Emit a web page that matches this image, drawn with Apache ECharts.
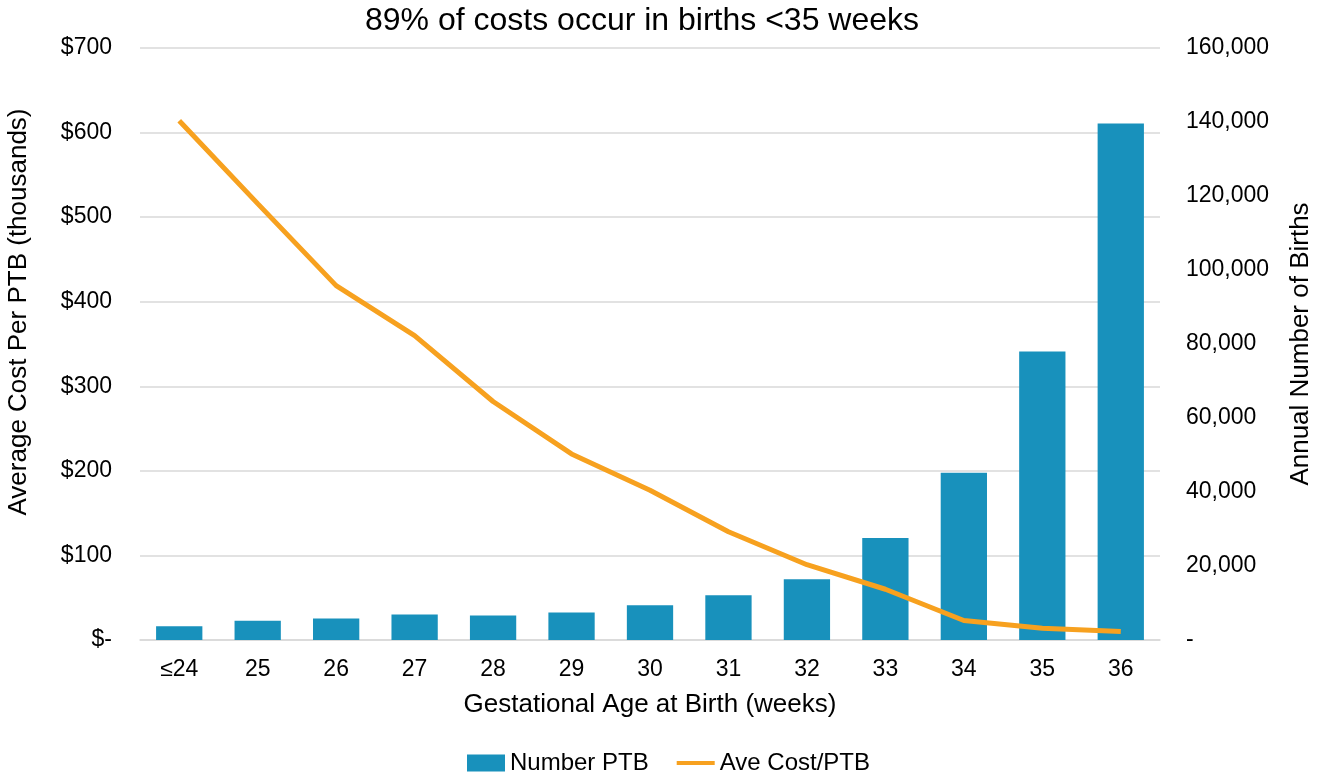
<!DOCTYPE html>
<html>
<head>
<meta charset="utf-8">
<script src="https://cdn.jsdelivr.net/npm/echarts@6/dist/echarts.min.js"></script>
<style>
html,body{margin:0;padding:0;background:#fff;}
#chart{width:1318px;height:776px;}
</style>
</head>
<body>
<div id="chart"></div>
<script>
const categories = ['≤24','25','26','27','28','29','30','31','32','33','34','35','36'];
const numberPTB = [3700, 5200, 5800, 6900, 6600, 7400, 9400, 12100, 16400, 27600, 45200, 78000, 139600];
const aveCost = [614, 516, 419, 360, 282, 220, 177, 128, 89, 60, 23, 14, 10];
const leftTicks = {min: 0, max: 700, interval: 100};
const rightTicks = {min: 0, max: 160000, interval: 20000};

const FONT = '"Liberation Sans", Arial, Helvetica, sans-serif';
const chart = echarts.init(document.getElementById('chart'));
chart.setOption({
  animation: false,
  textStyle: {fontFamily: FONT},
  title: {
    text: '89% of costs occur in births <35 weeks',
    left: 360, top: 0,
    textStyle: {fontSize: 32, fontWeight: 'normal', color: '#000', fontFamily: FONT}
  },
  legend: {
    bottom: -4, left: 462,
    itemGap: 28,
    textStyle: {fontSize: 24, color: '#000', fontFamily: FONT},
    data: [
      {name: 'Number PTB', icon: 'rect'},
      {name: 'Ave Cost/PTB', icon: 'path://M0,0 L40,0 L40,4 L0,4 Z'}
    ],
    itemWidth: 38, itemHeight: 17
  },
  grid: {left: 140, right: 158, top: 48, bottom: 136, containLabel: false, outerBoundsMode: 'none'},
  xAxis: {
    type: 'category', data: categories,
    name: 'Gestational Age at Birth (weeks)', nameLocation: 'middle', nameGap: 52,
    nameTextStyle: {fontSize: 26, color: '#000', fontFamily: FONT},
    axisLine: {show: true, lineStyle: {color: '#d9d9d9', width: 1.5}},
    axisTick: {show: false},
    axisLabel: {fontSize: 23, color: '#000', margin: 18, fontFamily: FONT}
  },
  yAxis: [
    {
      type: 'value', min: leftTicks.min, max: leftTicks.max, interval: leftTicks.interval,
      name: 'Average Cost Per PTB (thousands)', nameLocation: 'middle', nameGap: 108, nameRotate: 90,
      nameTextStyle: {fontSize: 26, color: '#000', fontFamily: FONT, padding: [0, 0, 0, 64]},
      axisLine: {show: false}, axisTick: {show: false},
      splitLine: {lineStyle: {color: '#d9d9d9', width: 1.5}},
      axisLabel: {fontSize: 23, color: '#000', margin: 28, fontFamily: FONT,
        formatter: v => v === 0 ? '$-' : '$' + v}
    },
    {
      type: 'value', min: rightTicks.min, max: rightTicks.max, interval: rightTicks.interval,
      name: 'Annual Number of Births', nameLocation: 'middle', nameGap: 128, nameRotate: 90,
      nameTextStyle: {fontSize: 26, color: '#000', fontFamily: FONT},
      axisLine: {show: false}, axisTick: {show: false},
      splitLine: {show: false},
      axisLabel: {fontSize: 23, color: '#000', margin: 26, fontFamily: FONT,
        formatter: v => v === 0 ? '-' : v.toLocaleString('en-US')}
    }
  ],
  series: [
    {
      name: 'Number PTB', type: 'bar', yAxisIndex: 1, data: numberPTB,
      barWidth: '59%',
      itemStyle: {color: '#1891bc'}
    },
    {
      name: 'Ave Cost/PTB', type: 'line', yAxisIndex: 0, data: aveCost,
      symbol: 'none', smooth: false,
      lineStyle: {color: '#f7a11f', width: 5},
      itemStyle: {color: '#f7a11f'}
    }
  ]
});
</script>
</body>
</html>
